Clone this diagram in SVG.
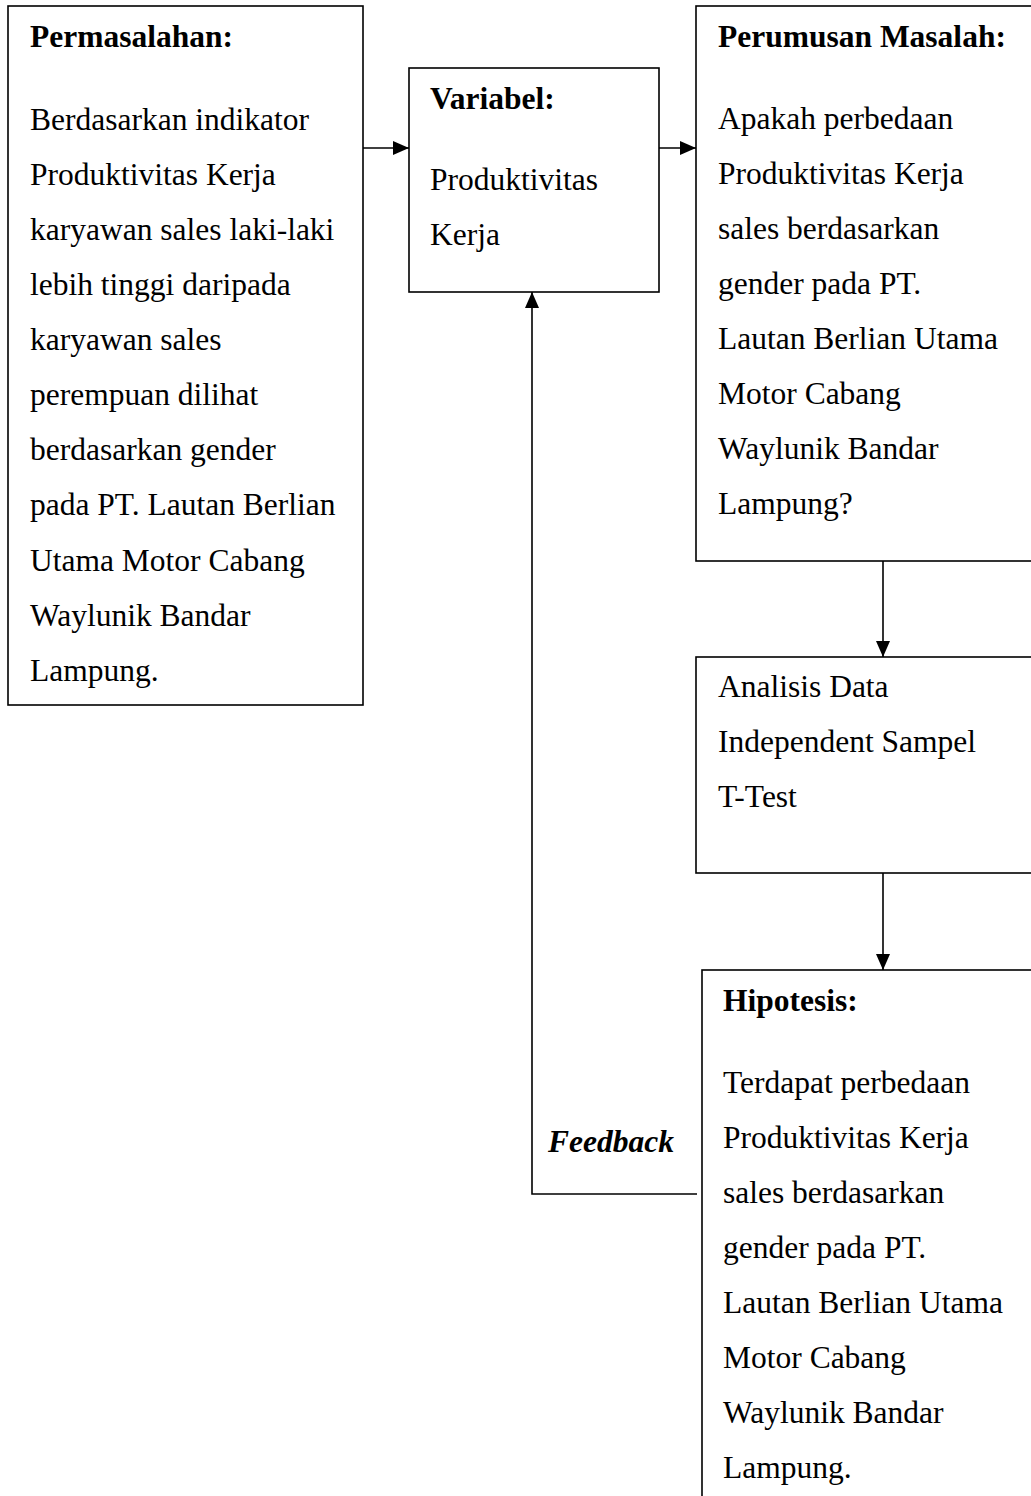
<svg xmlns="http://www.w3.org/2000/svg" width="1031" height="1496" viewBox="0 0 1031 1496">
  <style>
    .box { fill: #ffffff; stroke: #000000; stroke-width: 1.6; }
    .t { font-family: "Liberation Serif", "Times New Roman", serif; font-size: 31.5px; fill: #000000; }
    .b { font-weight: bold; }
    .fb { font-weight: bold; font-style: italic; }
    .ln { fill: none; stroke: #000000; stroke-width: 1.6; }
  </style>
  <defs>
    <marker id="arr" viewBox="0 0 16 14" refX="16" refY="7" markerWidth="16" markerHeight="14" markerUnits="userSpaceOnUse" orient="auto">
      <path d="M0,0 L16,7 L0,14 Z" fill="#000000"/>
    </marker>
  </defs>
  <rect width="1031" height="1496" fill="#ffffff"/>

  <g id="connectors">
    <line class="ln" x1="363" y1="148" x2="409" y2="148" marker-end="url(#arr)"/>
    <line class="ln" x1="659" y1="148" x2="696" y2="148" marker-end="url(#arr)"/>
    <line class="ln" x1="883" y1="561" x2="883" y2="657" marker-end="url(#arr)"/>
    <line class="ln" x1="883" y1="873" x2="883" y2="970" marker-end="url(#arr)"/>
    <polyline class="ln" points="697,1194 532,1194 532,292" marker-end="url(#arr)"/>
    <text class="t fb" x="611" y="1152" text-anchor="middle">Feedback</text>
  </g>

  <g id="node-permasalahan">
    <rect class="box" x="8" y="6" width="355" height="699"/>
    <text class="t b" x="30" y="47">Permasalahan:</text>
    <text class="t" x="30" y="130">Berdasarkan indikator</text>
    <text class="t" x="30" y="185">Produktivitas Kerja</text>
    <text class="t" x="30" y="240">karyawan sales laki-laki</text>
    <text class="t" x="30" y="295">lebih tinggi daripada</text>
    <text class="t" x="30" y="350">karyawan sales</text>
    <text class="t" x="30" y="405">perempuan dilihat</text>
    <text class="t" x="30" y="460">berdasarkan gender</text>
    <text class="t" x="30" y="515">pada PT. Lautan Berlian</text>
    <text class="t" x="30" y="571">Utama Motor Cabang</text>
    <text class="t" x="30" y="626">Waylunik Bandar</text>
    <text class="t" x="30" y="681">Lampung.</text>
  </g>

  <g id="node-variabel">
    <rect class="box" x="409" y="68" width="250" height="224"/>
    <text class="t b" x="430" y="109">Variabel:</text>
    <text class="t" x="430" y="190">Produktivitas</text>
    <text class="t" x="430" y="245">Kerja</text>
  </g>

  <g id="node-perumusan">
    <rect class="box" x="696" y="6" width="345" height="555"/>
    <text class="t b" x="718" y="47">Perumusan Masalah:</text>
    <text class="t" x="718" y="129">Apakah perbedaan</text>
    <text class="t" x="718" y="184">Produktivitas Kerja</text>
    <text class="t" x="718" y="239">sales berdasarkan</text>
    <text class="t" x="718" y="294">gender pada PT.</text>
    <text class="t" x="718" y="349">Lautan Berlian Utama</text>
    <text class="t" x="718" y="404">Motor Cabang</text>
    <text class="t" x="718" y="459">Waylunik Bandar</text>
    <text class="t" x="718" y="514">Lampung?</text>
  </g>

  <g id="node-analisis">
    <rect class="box" x="696" y="657" width="345" height="216"/>
    <text class="t" x="718" y="697">Analisis Data</text>
    <text class="t" x="718" y="752">Independent Sampel</text>
    <text class="t" x="718" y="807">T-Test</text>
  </g>

  <g id="node-hipotesis">
    <rect class="box" x="702" y="970" width="340" height="540"/>
    <text class="t b" x="723" y="1011">Hipotesis:</text>
    <text class="t" x="723" y="1093">Terdapat perbedaan</text>
    <text class="t" x="723" y="1148">Produktivitas Kerja</text>
    <text class="t" x="723" y="1203">sales berdasarkan</text>
    <text class="t" x="723" y="1258">gender pada PT.</text>
    <text class="t" x="723" y="1313">Lautan Berlian Utama</text>
    <text class="t" x="723" y="1368">Motor Cabang</text>
    <text class="t" x="723" y="1423">Waylunik Bandar</text>
    <text class="t" x="723" y="1478">Lampung.</text>
  </g>
</svg>
